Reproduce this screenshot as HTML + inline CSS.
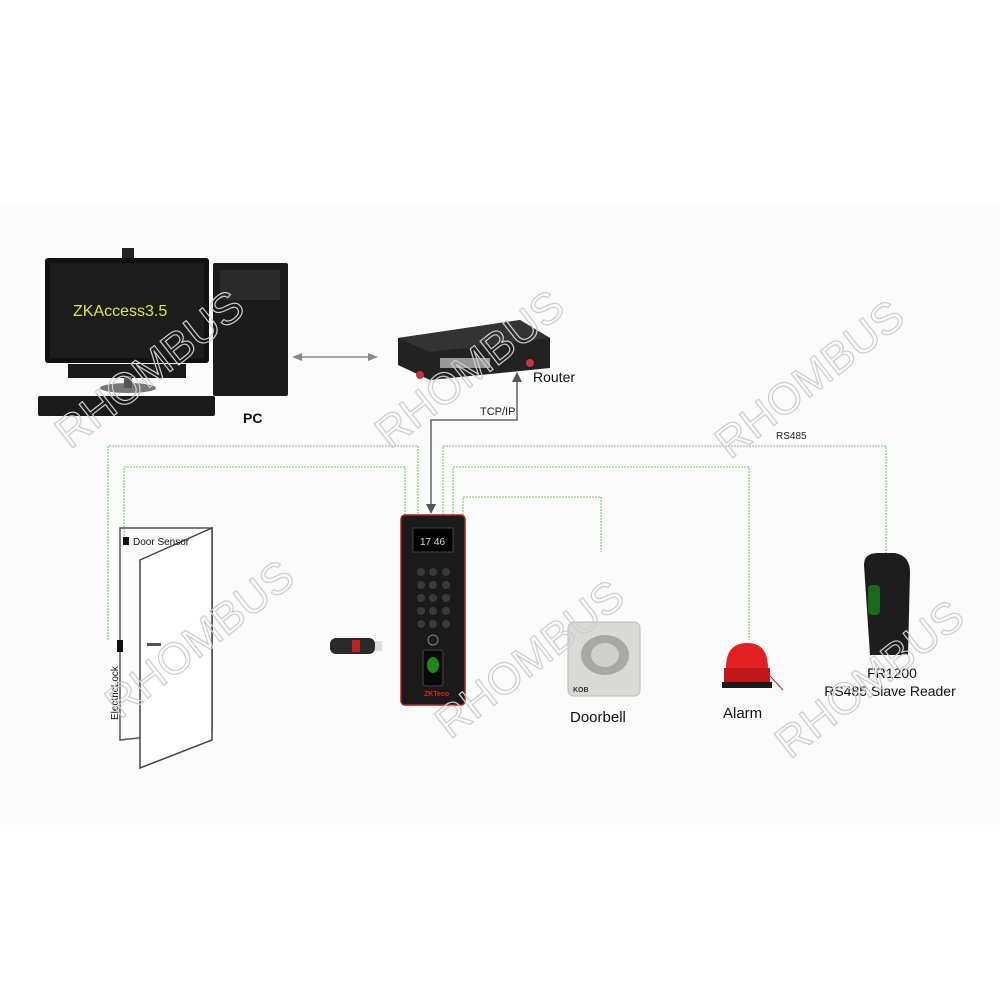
<!DOCTYPE html>
<html><head><meta charset="utf-8">
<style>
html,body{margin:0;padding:0;background:#fff;}
svg{display:block;}
text{font-family:"Liberation Sans",Arial,sans-serif;}
</style></head>
<body>
<svg width="1000" height="1000" viewBox="0 0 1000 1000" xmlns="http://www.w3.org/2000/svg">
<rect x="0" y="0" width="1000" height="1000" fill="#fff"/>
<rect x="0" y="205" width="1000" height="620" fill="#fbfbfb"/>

<g fill="none" stroke="#a9d39a" stroke-width="1.6" stroke-dasharray="2 1">
<polyline points="108,640 108,446 418,446 418,515"/>
<polyline points="124,545 124,467 405,467 405,515"/>
<polyline points="443,515 443,446 886,446 886,560"/>
<polyline points="453,515 453,467 749,467 749,640"/>
<polyline points="463,515 463,497 601,497 601,552"/>
</g>
<polyline points="517,378 517,420 431,420 431,506" fill="none" stroke="#666" stroke-width="1.5"/>
<polygon points="426,504 436,504 431,514" fill="#555"/>
<polygon points="512,382 522,382 517,372" fill="#555"/>
<text x="480" y="415" font-size="11" fill="#222">TCP/IP</text>
<text x="776" y="439" font-size="10" fill="#222">RS485</text>
<line x1="300" y1="357" x2="372" y2="357" stroke="#888" stroke-width="1.5"/>
<polygon points="292,357 302,353 302,361" fill="#888"/>
<polygon points="378,357 368,353 368,361" fill="#888"/>

<rect x="122" y="248" width="12" height="10" fill="#222"/>
<rect x="45" y="258" width="164" height="105" rx="3" fill="#111"/>
<rect x="50" y="263" width="154" height="95" fill="#1c1c1c"/>
<text x="73" y="316" font-size="16" fill="#d8e83a">ZKAccess3.5</text>
<rect x="68" y="364" width="118" height="14" fill="#1a1a1a"/>
<ellipse cx="128" cy="388" rx="28" ry="5" fill="#777"/>
<rect x="124" y="376" width="8" height="12" fill="#555"/>
<rect x="38" y="396" width="177" height="20" rx="2" fill="#1a1a1a"/>
<rect x="213" y="263" width="75" height="133" rx="2" fill="#1b1b1b"/>
<rect x="220" y="270" width="60" height="30" fill="#2a2a2a"/>
<text x="243" y="423" font-size="14" font-weight="bold" fill="#111">PC</text>

<polygon points="398,338 520,320 550,338 550,368 430,380 398,365" fill="#222"/>
<polygon points="398,338 520,320 550,338 430,352" fill="#333"/>
<rect x="440" y="358" width="50" height="10" fill="#999"/>
<circle cx="420" cy="375" r="4" fill="#c33"/>
<circle cx="530" cy="363" r="4" fill="#c33"/>
<text x="533" y="382" font-size="14" fill="#111">Router</text>

<polygon points="120,528 212,528 212,730 120,740" fill="none" stroke="#555" stroke-width="1.5"/>
<polygon points="140,560 212,528 212,740 140,768" fill="#fff" stroke="#444" stroke-width="1.5"/>
<rect x="123" y="537" width="6" height="8" fill="#111"/>
<text x="133" y="545" font-size="10" fill="#111">Door Sensor</text>
<rect x="117" y="640" width="6" height="12" fill="#111"/>
<text transform="translate(118,720) rotate(-90)" font-size="10" fill="#111">ElectricLock</text>
<rect x="147" y="643" width="14" height="3" fill="#555"/>

<rect x="330" y="638" width="45" height="16" rx="6" fill="#2a2a2a"/>
<rect x="352" y="640" width="8" height="12" fill="#b22"/>
<rect x="375" y="641" width="7" height="10" fill="#ddd"/>

<rect x="401" y="515" width="64" height="190" rx="4" fill="#1a1a1a" stroke="#b32020" stroke-width="1.5"/>
<rect x="413" y="528" width="40" height="24" fill="#000" stroke="#444"/>
<text x="420" y="545" font-size="10" fill="#ddd">17 46</text>
<g fill="#3a3a3a">
<circle cx="421" cy="572" r="4"/><circle cx="433" cy="572" r="4"/><circle cx="446" cy="572" r="4"/>
<circle cx="421" cy="585" r="4"/><circle cx="433" cy="585" r="4"/><circle cx="446" cy="585" r="4"/>
<circle cx="421" cy="598" r="4"/><circle cx="433" cy="598" r="4"/><circle cx="446" cy="598" r="4"/>
<circle cx="421" cy="611" r="4"/><circle cx="433" cy="611" r="4"/><circle cx="446" cy="611" r="4"/>
<circle cx="421" cy="624" r="4"/><circle cx="433" cy="624" r="4"/><circle cx="446" cy="624" r="4"/>
</g>
<circle cx="433" cy="640" r="5" fill="none" stroke="#888"/>
<rect x="423" y="650" width="20" height="36" rx="3" fill="#0a0a0a" stroke="#444"/>
<ellipse cx="433" cy="665" rx="6" ry="8" fill="#1a8a1a"/>
<text x="424" y="696" font-size="7" fill="#d22" font-weight="bold">ZKTeco</text>

<rect x="568" y="622" width="72" height="74" rx="6" fill="#d9d9d6" stroke="#bbb"/>
<ellipse cx="605" cy="655" rx="24" ry="20" fill="#a8a8a4"/>
<ellipse cx="605" cy="655" rx="14" ry="12" fill="#cfcfcb"/>
<text x="573" y="692" font-size="7" font-weight="bold" fill="#333">KOB</text>
<text x="570" y="722" font-size="15" fill="#111">Doorbell</text>

<path d="M726,668 Q726,643 747,643 Q768,643 768,668 Z" fill="#e02020"/>
<rect x="724" y="668" width="46" height="14" fill="#c01818"/>
<rect x="722" y="682" width="50" height="6" fill="#1a1a1a"/>
<line x1="770" y1="676" x2="783" y2="690" stroke="#c22" stroke-width="1"/>
<text x="723" y="718" font-size="15" fill="#111">Alarm</text>

<path d="M864,565 Q864,553 878,553 L895,553 Q910,556 910,572 L908,655 L870,655 Z" fill="#1d1d1d"/>
<rect x="868" y="585" width="12" height="30" rx="4" fill="#1a6a1a"/>
<text x="892" y="678" font-size="14" fill="#111" text-anchor="middle">FR1200</text>
<text x="890" y="696" font-size="14" fill="#111" text-anchor="middle">RS485 Slave Reader</text>

<g font-size="44" fill="none" stroke="#cdcdcd" stroke-width="1.2">
<text transform="translate(70,450) rotate(-38)">RHOMBUS</text>
<text transform="translate(390,450) rotate(-38)">RHOMBUS</text>
<text transform="translate(730,460) rotate(-38)">RHOMBUS</text>
<text transform="translate(120,720) rotate(-38)">RHOMBUS</text>
<text transform="translate(450,740) rotate(-38)">RHOMBUS</text>
<text transform="translate(790,760) rotate(-38)">RHOMBUS</text>
</g>
</svg>
</body></html>
